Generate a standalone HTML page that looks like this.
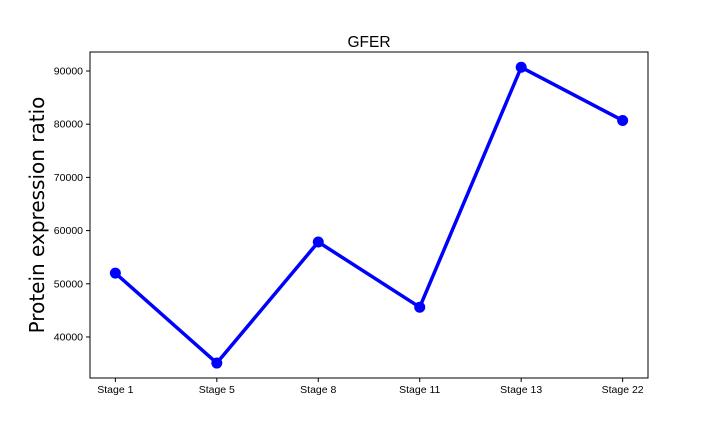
<!DOCTYPE html>
<html><head><meta charset="utf-8"><style>
body{margin:0;background:#fff;}
svg{display:block;font-family:"Liberation Sans","DejaVu Sans",sans-serif;}
</style></head><body>
<svg id="chart" width="720" height="432"></svg>
<script>
const categories=["Stage 1","Stage 5","Stage 8","Stage 11","Stage 13","Stage 22"];
const values=[52000,35100,57850,45600,90700,80700];
const yTicks=[40000,50000,60000,70000,80000,90000];
const L=90,R=648,T=52,B=378;
const yMin=32290,yMax=93570;
const xs=i=>L+(i+0.25)/(categories.length-0.5)*(R-L);
const ys=v=>B-(v-yMin)/(yMax-yMin)*(B-T);
const svg=document.getElementById('chart');
const NS='http://www.w3.org/2000/svg';
function mk(tag,attrs,parent){const e=document.createElementNS(NS,tag);for(const k in attrs)e.setAttribute(k,attrs[k]);(parent||svg).appendChild(e);return e;}
let t=mk('text',{x:369,y:47,'text-anchor':'middle','font-size':15.5});t.textContent='GFER';


t=mk('text',{x:0,y:0,'text-anchor':'middle','font-size':20,'font-family':'DejaVu Sans, sans-serif',transform:'translate(44,215) rotate(-90)'});t.textContent='Protein expression ratio';


yTicks.forEach(v=>{const y=ys(v);
 mk('line',{x1:L-4,x2:L,y1:y,y2:y,stroke:'#000','stroke-width':1});
 const tx=mk('text',{x:L-7,y:y+3.5,'text-anchor':'end','font-size':10.5});tx.textContent=v;
 
 
});
categories.forEach((c,i)=>{const x=xs(i);
 mk('line',{x1:x,x2:x,y1:B,y2:B+4,stroke:'#000','stroke-width':1});
 const tx=mk('text',{x:x,y:B+15,'text-anchor':'middle','font-size':10.5});tx.textContent=c;
 
 
});
const line=mk('polyline',{points:values.map((v,i)=>xs(i)+','+ys(v)).join(' '),fill:'none',stroke:'#0000ff','stroke-width':3.5,'stroke-linejoin':'round'});


values.forEach((v,i)=>{const p=mk('circle',{cx:xs(i),cy:ys(v),r:5.5,fill:'#0000ff'});
 
 
});
const frame=mk('rect',{x:L,y:T,width:R-L,height:B-T,fill:'none',stroke:'#000','stroke-width':1});


</script>
</body></html>
